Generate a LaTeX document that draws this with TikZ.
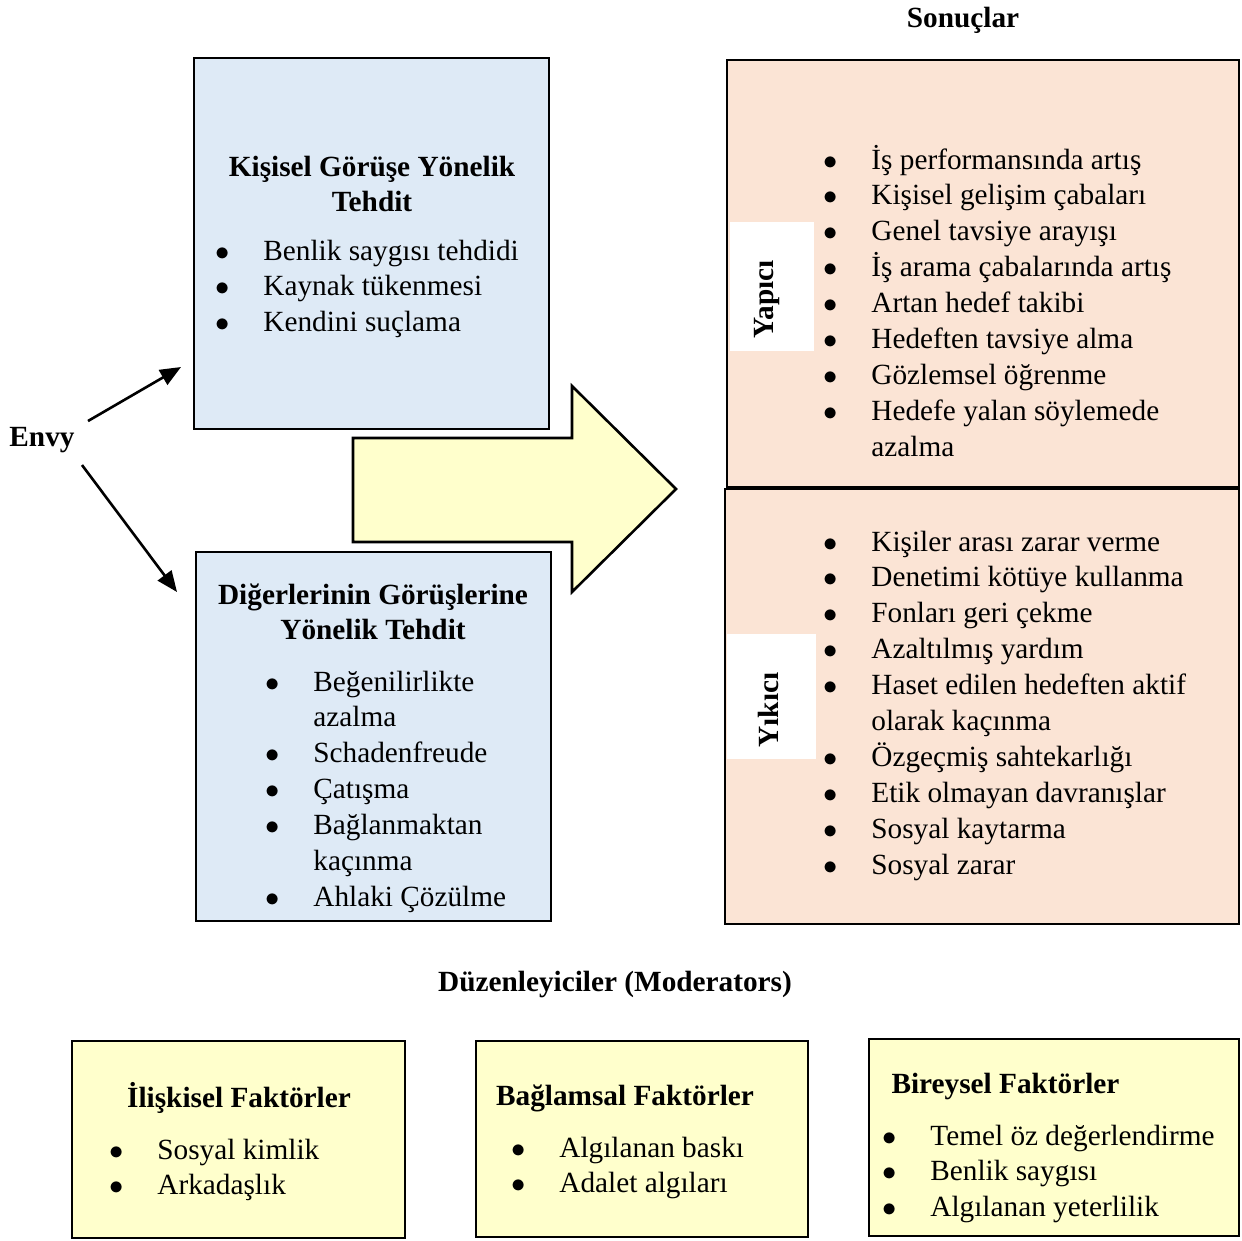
\documentclass[tikz,border=0pt]{standalone}
\usepackage{fontspec}
\setmainfont{Liberation Serif}
\usetikzlibrary{arrows.meta}
\usetikzlibrary{fit}

\definecolor{mavi}{HTML}{DEEAF6}
\definecolor{seftali}{HTML}{FBE4D5}
\definecolor{sari}{HTML}{FFFFCC}

\newcommand{\yazi}{\fontsize{11.25}{13.8}\selectfont}
\newlength{\maddeara}\setlength{\maddeara}{18.4pt}
\newcommand{\liste}[1]{\begin{tabular}[t]{@{}p{\maddeara}@{}l@{}}#1\end{tabular}}
\newcommand{\md}{$\bullet$ &}
\newcommand{\ortala}[1]{\begin{tabular}[t]{@{}c@{}}#1\end{tabular}}

\tikzset{
  kutu/.style={draw, line width=1pt, inner sep=0pt},
  baslik/.style={font=\yazi\bfseries, inner sep=0pt, anchor=base},
  metin/.style={inner sep=0pt, anchor=base west},
  ok/.style={-{Triangle[length=8pt, width=6.5pt]}, line width=1pt},
}

\begin{document}
\begin{tikzpicture}[x=0.0135cm, y=-0.0135cm, font=\yazi]
        \useasboundingbox (0,0) rectangle (1242,1240);

        % başlıklar
        \node[baslik] (sonuclar) at (963,27) {Sonuçlar};
        \node[baslik] (duzen) at (615,991) {Düzenleyiciler (Moderators)};
        \node[baslik] (envy) at (42,446) {Envy};

        % tehdit kutuları
        \node[kutu, fill=mavi, fit={(194,58) (549,429)}] (kisisel) {};
        \node[kutu, fill=mavi, fit={(196,552) (551,921)}] (digerleri) {};
        \node[baslik] (kisiselB) at (372,176) {\ortala{Kişisel Görüşe Yönelik\\Tehdit}};
        \node[metin] (kisiselL) at (215,260) {\liste{
          \md Benlik saygısı tehdidi\\
          \md Kaynak tükenmesi\\
          \md Kendini suçlama}};
        \node[baslik] (digerleriB) at (373,604) {\ortala{Diğerlerinin Görüşlerine\\Yönelik Tehdit}};
        \node[metin] (digerleriL) at (265,691) {\liste{
          \md Beğenilirlikte\\ & azalma\\
          \md Schadenfreude\\
          \md Çatışma\\
          \md Bağlanmaktan\\ & kaçınma\\
          \md Ahlaki Çözülme}};

        % Envy okları
        \coordinate (envyUst) at (88,421);
        \coordinate (kisiselUc) at (181,367);
        \coordinate (envyAlt) at (82,465);
        \coordinate (digerleriUc) at (177,592);
        \draw[ok] (envyUst) -- (kisiselUc);
        \draw[ok] (envyAlt) -- (digerleriUc);

        % büyük ok
        \draw[line width=1pt, fill=sari] (353,438) -- (572,438) -- (572,386) -- (676,489)
          -- (572,592) -- (572,542) -- (353,542) -- cycle;

        % sonuçlar
        \node[kutu, fill=seftali, fit={(727,60) (1239,487)}] (yapici) {};
        \node[kutu, fill=seftali, fit={(725,489) (1239,924)}] (yikici) {};
        \node[fill=white, inner sep=0pt, fit={(730,222) (814,351)}] (yapiciZ) {};
        \node[fill=white, inner sep=0pt, fit={(727,634) (816,759)}] (yikiciZ) {};
        \node[baslik, rotate=90, anchor=center] (yapiciE) at (767,299) {Yapıcı};
        \node[baslik, rotate=90, anchor=center] (yikiciE) at (768,710) {Yıkıcı};
        \node[metin] (yapiciL) at (823,169) {\liste{
          \md İş performansında artış\\
          \md Kişisel gelişim çabaları\\
          \md Genel tavsiye arayışı\\
          \md İş arama çabalarında artış\\
          \md Artan hedef takibi\\
          \md Hedeften tavsiye alma\\
          \md Gözlemsel öğrenme\\
          \md Hedefe yalan söylemede\\ & azalma}};
        \node[metin] (yikiciL) at (823,551) {\liste{
          \md Kişiler arası zarar verme\\
          \md Denetimi kötüye kullanma\\
          \md Fonları geri çekme\\
          \md Azaltılmış yardım\\
          \md Haset edilen hedeften aktif\\ & olarak kaçınma\\
          \md Özgeçmiş sahtekarlığı\\
          \md Etik olmayan davranışlar\\
          \md Sosyal kaytarma\\
          \md Sosyal zarar}};

        % düzenleyiciler
        \node[kutu, fill=sari, fit={(72,1041) (405,1238)}] (iliskisel) {};
        \node[kutu, fill=sari, fit={(476,1041) (808,1237)}] (baglamsal) {};
        \node[kutu, fill=sari, fit={(869,1039) (1239,1236)}] (bireysel) {};
        \node[baslik] (iliskiselB) at (239,1107) {İlişkisel Faktörler};
        \node[metin] (iliskiselL) at (109,1159) {\liste{
          \md Sosyal kimlik\\
          \md Arkadaşlık}};
        \node[baslik] (baglamsalB) at (625,1105) {Bağlamsal Faktörler};
        \node[metin] (baglamsalL) at (511,1157) {\liste{
          \md Algılanan baskı\\
          \md Adalet algıları}};
        \node[baslik, anchor=base west] (bireyselB) at (891,1093) {Bireysel Faktörler};
        \node[metin] (bireyselL) at (882,1145) {\liste{
          \md Temel öz değerlendirme\\
          \md Benlik saygısı\\
          \md Algılanan yeterlilik}};
      \end{tikzpicture}
\end{document}
